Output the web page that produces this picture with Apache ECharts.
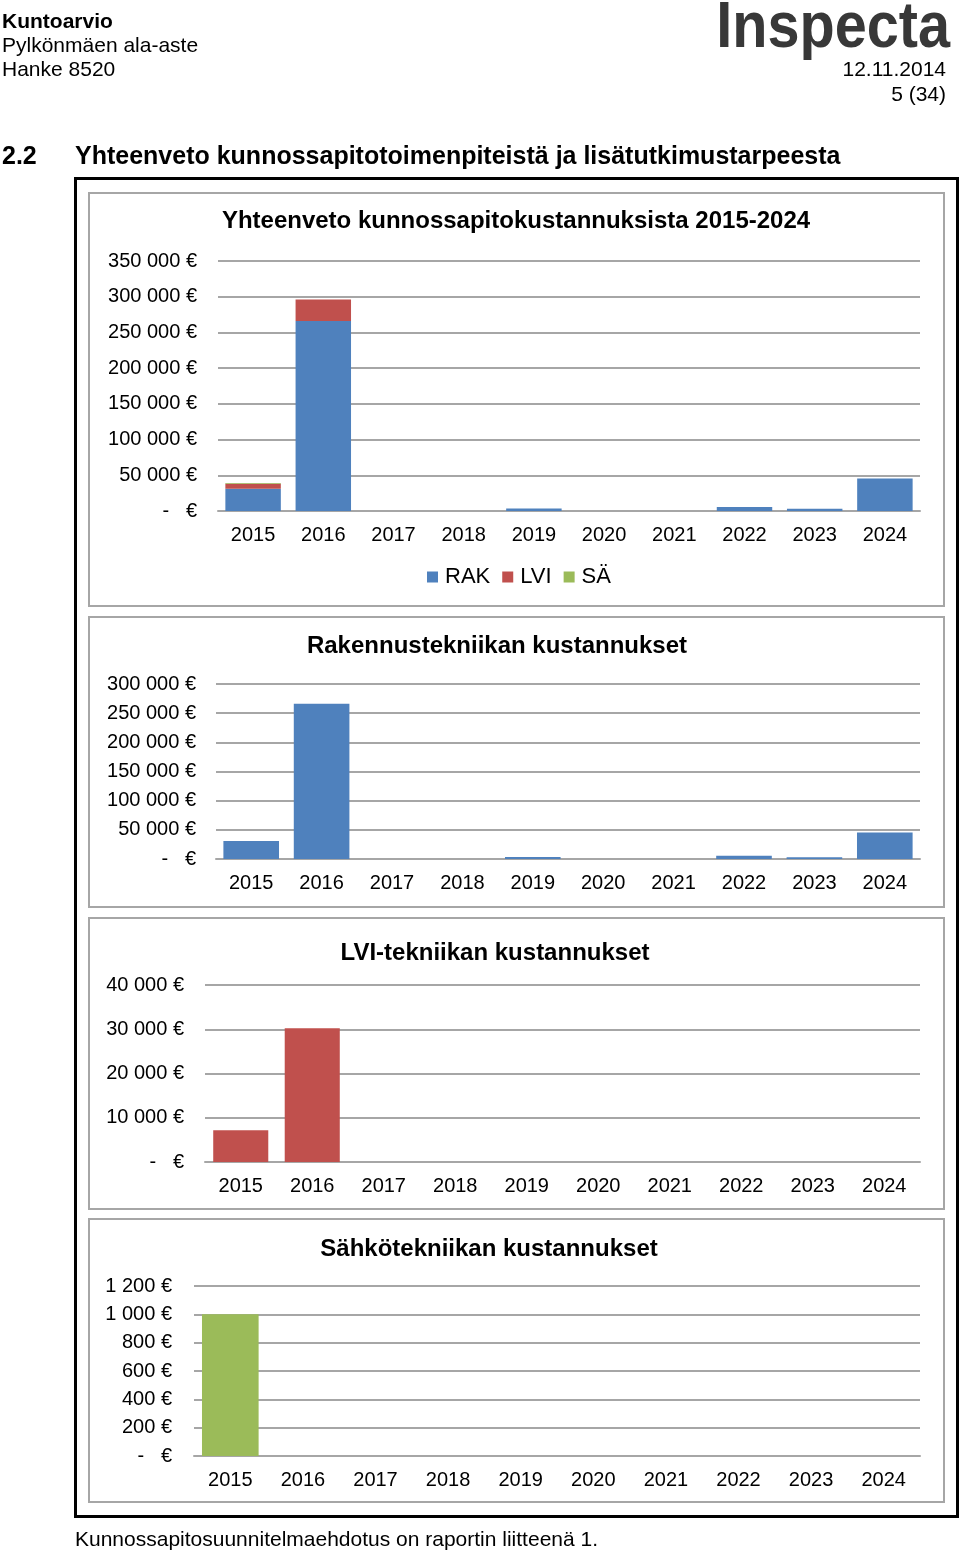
<!DOCTYPE html>
<html>
<head>
<meta charset="utf-8">
<script src="https://cdn.jsdelivr.net/npm/echarts@6/dist/echarts.min.js"></script>
<style>
html,body{margin:0;padding:0;background:#fff;}
#c{width:960px;height:1553px;}
</style>
</head>
<body>
<div id="c"></div>
<script>
// ---- data ----
const years = ['2015','2016','2017','2018','2019','2020','2021','2022','2023','2024'];
const rak = [31000, 266000, 0, 0, 3500, 0, 0, 5500, 3000, 45500];
const lvi = [7200, 30200, 0, 0, 0, 0, 0, 0, 0, 0];
const sa  = [1000, 0, 0, 0, 0, 0, 0, 0, 0, 0];
const seriesNames = ['RAK', 'LVI', 'SÄ'];
const chartTitles = [
  'Yhteenveto kunnossapitokustannuksista 2015-2024',
  'Rakennustekniikan kustannukset',
  'LVI-tekniikan kustannukset',
  'Sähkötekniikan kustannukset'
];
const yMax = [350000, 300000, 40000, 1200];
const yStep = [50000, 50000, 10000, 200];

const COLORS = ['#4f81bd', '#c0504d', '#9bbb59'];
const FONT = '"Liberation Sans", Arial, sans-serif';

function fmtEuro(v) {
  if (v === 0) return '-   €';
  const s = String(Math.round(v)).replace(/\B(?=(\d{3})+(?!\d))/g, ' ');
  return s + ' €';
}

const chart = echarts.init(document.getElementById('c'), null, {renderer: 'canvas'});

const grids = [
  {left: 218, top: 261, width: 702, height: 250},
  {left: 216, top: 684, width: 704, height: 175},
  {left: 205, top: 985, width: 715, height: 177},
  {left: 194, top: 1286, width: 726, height: 170}
].map(g => Object.assign({outerBoundsMode: 'none', containLabel: false}, g));

const labelMargins = [21, 20, 21, 22];

const xAxes = grids.map((g, i) => ({
  type: 'category',
  gridIndex: i,
  data: years,
  axisTick: {show: false},
  axisLine: {show: true, lineStyle: {color: '#a6a6a6', width: 2}},
  axisLabel: {color: '#000', fontSize: 20, fontFamily: FONT, margin: 14, interval: 0}
}));

const yAxes = grids.map((g, i) => ({
  type: 'value',
  gridIndex: i,
  min: 0,
  max: yMax[i],
  interval: yStep[i],
  axisLine: {show: false},
  axisTick: {show: false},
  splitLine: {lineStyle: {color: '#a6a6a6', width: 2}},
  axisLabel: {color: '#000', fontSize: 20, fontFamily: FONT, margin: labelMargins[i], formatter: fmtEuro}
}));

const series = [
  {name: seriesNames[0], type: 'bar', stack: 'tot', xAxisIndex: 0, yAxisIndex: 0, data: rak, itemStyle: {color: COLORS[0]}, barCategoryGap: '21%'},
  {name: seriesNames[1], type: 'bar', stack: 'tot', xAxisIndex: 0, yAxisIndex: 0, data: lvi, itemStyle: {color: COLORS[1]}, barCategoryGap: '21%'},
  {name: seriesNames[2], type: 'bar', stack: 'tot', xAxisIndex: 0, yAxisIndex: 0, data: sa, itemStyle: {color: COLORS[2]}, barCategoryGap: '21%'},
  {name: 'RAK ', type: 'bar', xAxisIndex: 1, yAxisIndex: 1, data: rak, itemStyle: {color: COLORS[0]}, barCategoryGap: '21%'},
  {name: 'LVI ', type: 'bar', xAxisIndex: 2, yAxisIndex: 2, data: lvi, itemStyle: {color: COLORS[1]}, barCategoryGap: '23%'},
  {name: 'SÄ ', type: 'bar', xAxisIndex: 3, yAxisIndex: 3, data: sa, itemStyle: {color: COLORS[2]}, barCategoryGap: '22%'}
];

function txt(x, y, text, opts) {
  return {
    type: 'text', x: x, y: y, silent: true,
    style: Object.assign({
      text: text, fill: '#000', fontFamily: FONT, fontSize: 21,
      align: 'left', verticalAlign: 'middle'
    }, opts && opts.style)
  };
}

const boxes = [[89, 193, 855, 413], [89, 617, 855, 290], [89, 918, 855, 291], [89, 1219, 855, 283]];

const graphic = [
  // outer frame
  {type: 'rect', silent: true, shape: {x: 75.5, y: 178.5, width: 882, height: 1338}, style: {fill: 'none', stroke: '#000', lineWidth: 3}},
  ...boxes.map(b => ({type: 'rect', silent: true, shape: {x: b[0], y: b[1], width: b[2], height: b[3]}, style: {fill: 'none', stroke: '#a6a6a6', lineWidth: 2}})),
  // header
  txt(2, 22, 'Kuntoarvio', {style: {fontWeight: 'bold', fontSize: 21}}),
  txt(2, 46, 'Pylkönmäen ala-aste'),
  txt(2, 70, 'Hanke 8520'),
  txt(946, 70, '12.11.2014', {style: {align: 'right'}}),
  txt(946, 95, '5 (34)', {style: {align: 'right'}}),
  {type: 'text', x: 950, y: 29, silent: true, scaleX: 0.9,
   style: {text: 'Inspecta', fill: '#383838', fontFamily: FONT, fontWeight: 'bold', fontSize: 64, align: 'right', verticalAlign: 'middle'}},
  txt(2, 157, '2.2', {style: {fontWeight: 'bold', fontSize: 25}}),
  txt(75, 157, 'Yhteenveto kunnossapitotoimenpiteistä ja lisätutkimustarpeesta', {style: {fontWeight: 'bold', fontSize: 25}}),
  txt(75, 1540, 'Kunnossapitosuunnitelmaehdotus on raportin liitteenä 1.'),
  // chart titles
  txt(516, 221, chartTitles[0], {style: {fontWeight: 'bold', fontSize: 24, align: 'center'}}),
  txt(497, 646, chartTitles[1], {style: {fontWeight: 'bold', fontSize: 24, align: 'center'}}),
  txt(495, 953, chartTitles[2], {style: {fontWeight: 'bold', fontSize: 24, align: 'center'}}),
  txt(489, 1249, chartTitles[3], {style: {fontWeight: 'bold', fontSize: 24, align: 'center'}})
];

chart.setOption({
  animation: false,
  backgroundColor: '#fff',
  grid: grids,
  xAxis: xAxes,
  yAxis: yAxes,
  legend: {
    data: seriesNames,
    left: 422, top: 561,
    itemWidth: 11, itemHeight: 11, itemGap: 12,
    icon: 'rect',
    textStyle: {color: '#000', fontSize: 22, fontFamily: FONT, padding: [0, 0, 0, 2]}
  },
  graphic: graphic,
  series: series
});
</script>
</body>
</html>
